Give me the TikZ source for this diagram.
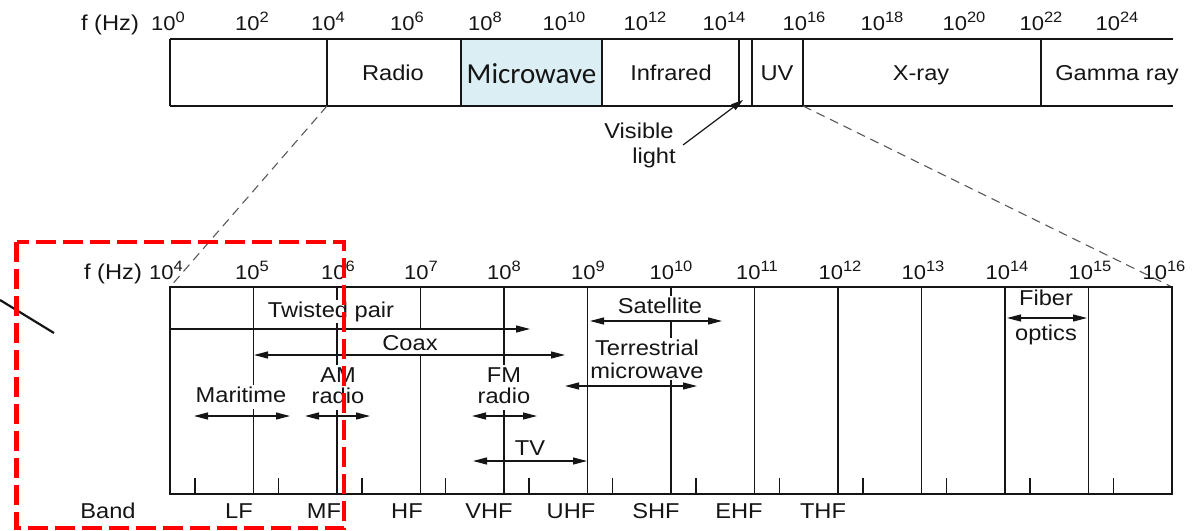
\documentclass[tikz,border=0pt]{standalone}
\usepackage{fontspec}
\setmainfont{Liberation Sans}[FakeStretch=1.1]
\newfontfamily\calfont{Carlito}
\usetikzlibrary{arrows.meta}
\definecolor{mwblue}{HTML}{DAEEF3}
\definecolor{ink}{HTML}{151515}
\newcommand\decl[1]{10\raisebox{7.5pt}{\fontsize{15}{15}\selectfont #1}}
\begin{document}
\begin{tikzpicture}[x=1pt,y=-1pt,
  ln/.style={line width=1.2pt, draw=ink},
  txt/.style={font=\fontsize{21.5}{24}\selectfont, text=ink, inner sep=0pt, anchor=base},
  dec/.style={font=\fontsize{20}{22}\selectfont, text=ink, inner sep=0pt, anchor=base},
  wtxt/.style={txt, fill=white, inner sep=1.5pt},
  tall/.style={text height=16pt, text depth=5pt},
  zoomln/.style={line width=1.1pt, draw=gray!70!black, dash pattern=on 9pt off 6pt},
  dbl/.style={ln, {Triangle[length=14pt,width=7pt]}-{Triangle[length=14pt,width=7pt]}},
  sgl/.style={ln, -{Triangle[length=14pt,width=7pt]}},
  redbox/.style={draw=red, line width=4.3pt, dash pattern=on 20pt off 7pt}
]
\useasboundingbox (0,0) rectangle (1199,530);

% ---------- top spectrum bar ----------
\coordinate (barTL) at (170,39);
\coordinate (barTR) at (1173,39);
\coordinate (barBL) at (170,106);
\coordinate (barBR) at (1173,106);
\draw[ln] (barTL) -- (barTR);
\draw[ln] (barBL) -- (barBR);
\foreach \x/\n in {170/d0,327/d4,739/dv1,752/dv2,803/d16,1041/d22}{
  \coordinate (\n t) at (\x,39);
  \coordinate (\n b) at (\x,106);
  \draw[ln] (\n t) -- (\n b);
}
\draw[line width=2.6pt, draw=ink, fill=mwblue] (461,39) rectangle (602,106);
\node[txt, font=\calfont\fontsize{29}{30}\selectfont] (mw) at (531.5,83) {Microwave};

\node[txt] (radio) at (393,80) {Radio};
\node[txt] (ir) at (671,80) {Infrared};
\node[txt] (uv) at (777,80) {UV};
\node[txt] (xray) at (921,80) {X-ray};
\node[txt] (gamma) at (1117,80) {Gamma ray};

\node[txt] (fhz1) at (110,30) {f (Hz)};
\foreach \x/\e in {168/0,252/2,328/4,407/6,485/8,564/10,645/12,724/14,804/16,882/18,964/20,1041/22,1117/24}{
  \node[dec] (te\e) at (\x,30) {\decl{\e}};
}

% visible light
\node[txt] (vis1) at (639,138) {Visible};
\node[txt] (vis2) at (654,163) {light};
\coordinate (visfrom) at (683,145);
\coordinate (visto) at (743,100);
\draw[ln, -{Triangle[length=12pt,width=7pt]}] (visfrom) -- (visto);

% ---------- zoom lines ----------
\coordinate (zl1) at (170,287);
\coordinate (zr1) at (1172,287);
\draw[zoomln] (d4b) -- (zl1);
\draw[zoomln] (d16b) -- (zr1);

% ---------- lower chart ----------
\draw[ln] (170,287) rectangle (1172,494);
\foreach \i in {1,...,11}{
  \draw[ln] ({170+83.5*\i},287) -- ({170+83.5*\i},494);
}
\foreach \i in {0,...,11}{
  \draw[ln] ({195+83.5*\i},478) -- ({195+83.5*\i},494);
}

\node[txt] (fhz2) at (113,279) {f (Hz)};
\foreach \x/\e in {166/4,252/5,338/6,421/7,504/8,588/9,671/10,757/11,840/12,923/13,1007/14,1090/15,1164/16}{
  \node[dec] (be\e) at (\x,279) {\decl{\e}};
}

% labels with white background
\node[wtxt] (tp) at (331,317) {Twisted pair};
\node[wtxt, text height=20pt, text depth=3pt] (coax) at (410,350) {Coax};
\node[wtxt, tall] (mar) at (241,402) {Maritime};
\node[wtxt, tall] (am1) at (338,382) {AM};
\node[wtxt, tall] (am2) at (338,403) {radio};
\node[wtxt, tall] (fm1) at (504,382) {FM};
\node[wtxt, tall] (fm2) at (504,403) {radio};
\node[wtxt] (tv) at (530,455) {TV};
\node[wtxt, tall] (sat) at (660,313) {Satellite};
\node[wtxt, tall] (ter1) at (647,355) {Terrestrial};
\node[wtxt] (ter2) at (647,378) {microwave};
\node[wtxt] (fib1) at (1046,305) {Fiber};
\node[wtxt] (fib2) at (1046,340) {optics};

% range arrows
\coordinate (tpA) at (170,329);  \coordinate (tpB) at (530,329);
\coordinate (coA) at (254,355);  \coordinate (coB) at (565,355);
\coordinate (maA) at (194,416);  \coordinate (maB) at (290,416);
\coordinate (amA) at (305,416);  \coordinate (amB) at (370,416);
\coordinate (fmA) at (472,416);  \coordinate (fmB) at (537,416);
\coordinate (tvA) at (473,461);  \coordinate (tvB) at (587,461);
\coordinate (saA) at (590,321);  \coordinate (saB) at (722,321);
\coordinate (teA) at (565,386);  \coordinate (teB) at (697,386);
\coordinate (fiA) at (1007,318); \coordinate (fiB) at (1087,318);
\draw[sgl] (tpA) -- (tpB);
\draw[dbl] (coA) -- (coB);
\draw[dbl] (maA) -- (maB);
\draw[dbl] (amA) -- (amB);
\draw[dbl] (fmA) -- (fmB);
\draw[dbl] (tvA) -- (tvB);
\draw[dbl] (saA) -- (saB);
\draw[dbl] (teA) -- (teB);
\draw[dbl] (fiA) -- (fiB);

% band names
\foreach \x/\b in {108/Band,239/LF,324/MF,407/HF,489/VHF,571/UHF,656/SHF,739/EHF,823/THF}{
  \node[txt] (band\b) at (\x,518) {\b};
}

% ---------- overlays ----------
\coordinate (blA) at (0,300);
\coordinate (blB) at (54,333);
\draw[line width=2.2pt, draw=ink] (blA) -- (blB);
\draw[redbox] (16.5,242) rectangle (344,528);
\end{tikzpicture}
\end{document}
